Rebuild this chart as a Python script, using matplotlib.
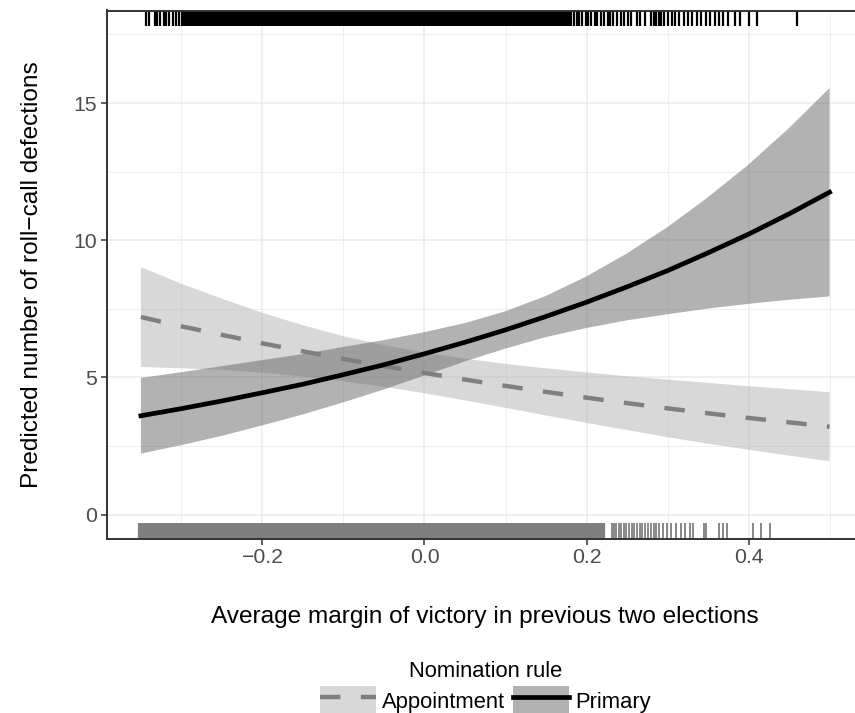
import matplotlib
matplotlib.use("Agg")
from matplotlib import pyplot as plt
from matplotlib.patches import Patch
from matplotlib.lines import Line2D

plt.rcParams['font.family'] = ['Liberation Sans', 'DejaVu Sans']

# predicted counts with 95% bands
margin = [-0.35, -0.30, -0.25, -0.20, -0.15, -0.10, -0.05, 0.00, 0.05,
          0.10, 0.15, 0.20, 0.25, 0.30, 0.35, 0.40, 0.45, 0.50]

primary_fit = [3.60, 3.86, 4.14, 4.44, 4.75, 5.10, 5.46, 5.86, 6.28,
               6.73, 7.22, 7.74, 8.30, 8.89, 9.54, 10.22, 10.96, 11.75]
primary_lo = [2.22, 2.53, 2.87, 3.25, 3.65, 4.09, 4.56, 5.07, 5.58,
              6.05, 6.47, 6.80, 7.08, 7.30, 7.51, 7.68, 7.83, 7.95]
primary_hi = [4.98, 5.19, 5.41, 5.63, 5.85, 6.11, 6.36, 6.65, 6.98,
              7.41, 7.97, 8.68, 9.52, 10.48, 11.57, 12.76, 14.09, 15.55]

appoint_fit = [7.20, 6.86, 6.55, 6.24, 5.95, 5.67, 5.41, 5.16, 4.92,
               4.69, 4.47, 4.26, 4.06, 3.87, 3.69, 3.52, 3.36, 3.20]
appoint_lo = [5.38, 5.33, 5.27, 5.17, 5.03, 4.86, 4.65, 4.42, 4.16,
              3.89, 3.61, 3.34, 3.08, 2.82, 2.58, 2.36, 2.15, 1.94]
appoint_hi = [9.02, 8.41, 7.87, 7.35, 6.90, 6.50, 6.18, 5.90, 5.68,
              5.49, 5.33, 5.18, 5.04, 4.92, 4.80, 4.68, 4.57, 4.46]

# observed margins (rugs): primary on top, appointment at the bottom
primary_rug_dense = [
    -0.295, -0.290, -0.285, -0.281, -0.276, -0.270, -0.265, -0.261, -0.255, -0.250,
    -0.246, -0.240, -0.235, -0.231, -0.225, -0.220, -0.216, -0.210, -0.205, -0.200,
    -0.196, -0.190, -0.185, -0.181, -0.175, -0.170, -0.166, -0.160, -0.155, -0.150,
    -0.146, -0.140, -0.135, -0.131, -0.125, -0.120, -0.116, -0.110, -0.105, -0.100,
    -0.096, -0.090, -0.085, -0.081, -0.075, -0.070, -0.066, -0.060, -0.055, -0.050,
    -0.046, -0.040, -0.035, -0.031, -0.025, -0.020, -0.016, -0.010, -0.005, 0.000,
    0.004, 0.010, 0.015, 0.019, 0.025, 0.030, 0.034, 0.040, 0.045, 0.050,
    0.054, 0.060, 0.065, 0.069, 0.075, 0.080, 0.084, 0.090, 0.095, 0.100,
    0.104, 0.110, 0.115, 0.119, 0.125, 0.130, 0.134, 0.140, 0.145, 0.150,
    0.154, 0.160, 0.165, 0.169, 0.175]
primary_rug_sparse = [
    -0.344, -0.340, -0.333, -0.330, -0.326, -0.322, -0.319, -0.315, -0.311, -0.307,
    -0.303, -0.299,
    0.178, 0.181, 0.184, 0.188, 0.191, 0.195, 0.199, 0.202, 0.206, 0.210,
    0.213, 0.218, 0.222, 0.226, 0.229, 0.233, 0.238, 0.242, 0.246, 0.251,
    0.255, 0.262, 0.266, 0.272, 0.279, 0.283, 0.286, 0.289, 0.292, 0.296,
    0.300, 0.305, 0.309, 0.314, 0.320, 0.325, 0.330, 0.336, 0.341, 0.347,
    0.352, 0.358, 0.364, 0.369, 0.375, 0.383, 0.390, 0.401, 0.410, 0.460]

appoint_rug_dense = [
    -0.350, -0.345, -0.340, -0.336, -0.330, -0.325, -0.321, -0.315, -0.310, -0.306,
    -0.300, -0.295, -0.291, -0.285, -0.280, -0.276, -0.270, -0.265, -0.261, -0.255,
    -0.250, -0.246, -0.240, -0.235, -0.231, -0.225, -0.220, -0.216, -0.210, -0.205,
    -0.201, -0.195, -0.190, -0.186, -0.180, -0.175, -0.171, -0.165, -0.160, -0.156,
    -0.150, -0.145, -0.141, -0.135, -0.130, -0.126, -0.120, -0.115, -0.111, -0.105,
    -0.100, -0.096, -0.090, -0.085, -0.081, -0.075, -0.070, -0.066, -0.060, -0.055,
    -0.051, -0.045, -0.040, -0.036, -0.030, -0.025, -0.021, -0.015, -0.010, -0.006,
    0.000, 0.005, 0.009, 0.015, 0.020, 0.024, 0.030, 0.035, 0.039, 0.045,
    0.050, 0.054, 0.060, 0.065, 0.069, 0.075, 0.080, 0.084, 0.090, 0.095,
    0.099, 0.105, 0.110, 0.114, 0.120, 0.125, 0.129, 0.135, 0.140, 0.144,
    0.150, 0.155, 0.159, 0.165, 0.170, 0.174, 0.180, 0.185, 0.189, 0.195,
    0.200, 0.204, 0.210, 0.215, 0.219]
appoint_rug_sparse = [
    0.231, 0.234, 0.237, 0.240, 0.243, 0.246, 0.249, 0.252, 0.256, 0.259,
    0.262, 0.266, 0.269, 0.272, 0.276, 0.279, 0.283, 0.286, 0.290, 0.294,
    0.299, 0.304, 0.310, 0.317, 0.322, 0.328, 0.332, 0.345, 0.348, 0.363,
    0.368, 0.373, 0.405, 0.415, 0.426]

x_ticks = [-0.2, 0.0, 0.2, 0.4]
x_ticklabels = ["\u22120.2", "0.0", "0.2", "0.4"]
y_ticks = [0, 5, 10, 15]
x_minor = [-0.3, -0.1, 0.1, 0.3, 0.5]
y_minor = [2.5, 7.5, 12.5, 17.5]

fig = plt.figure(figsize=(8.55, 7.13), dpi=100)
# panel runs a bit past the right edge, like the cropped original
ax = fig.add_axes([106.5 / 855, 1 - 538.5 / 713, (864 - 106.5) / 855, 528 / 713])
ax.set_xlim(-0.3925, 0.5425)
ax.set_ylim(-0.875, 18.375)

grid = '#EBEBEB'
for v in x_ticks:
    ax.axvline(v, color=grid, lw=1.1, zorder=0)
for v in x_minor:
    ax.axvline(v, color=grid, lw=0.55, zorder=0)
for v in y_ticks:
    ax.axhline(v, color=grid, lw=1.1, zorder=0)
for v in y_minor:
    ax.axhline(v, color=grid, lw=0.55, zorder=0)

ax.fill_between(margin, appoint_lo, appoint_hi, facecolor='#B3B3B3', alpha=0.5,
                edgecolor='none', zorder=1)
ax.fill_between(margin, primary_lo, primary_hi, facecolor='#666666', alpha=0.5,
                edgecolor='none', zorder=1)
ax.plot(margin, appoint_fit, color='#7F7F7F', lw=3.2, dashes=(4.6, 4.6),
        solid_capstyle='butt', dash_capstyle='butt', zorder=2)
ax.plot(margin, primary_fit, color='black', lw=3.4, zorder=2)

xt = ax.get_xaxis_transform()
ax.vlines(primary_rug_dense, 0.97, 1.0, transform=xt, color='black', lw=4.5, zorder=3)
ax.vlines(primary_rug_sparse, 0.97, 1.0, transform=xt, color='black', lw=1.6, zorder=3)
ax.vlines(appoint_rug_dense, 0.0, 0.03, transform=xt, color='#7F7F7F', lw=4.5, zorder=3)
ax.vlines(appoint_rug_sparse, 0.0, 0.03, transform=xt, color='#7F7F7F', lw=1.3, zorder=3)

ax.set_xticks(x_ticks)
ax.set_xticklabels(x_ticklabels)
ax.set_yticks(y_ticks)
ax.tick_params(length=4, width=1.1, color='#333333', labelcolor='#4D4D4D',
               labelsize=15.3, pad=3)
for s in ax.spines.values():
    s.set_color('#333333')
    s.set_linewidth(1.4)
    s.set_zorder(4)

ax.set_xlabel("Average margin of victory in previous two elections", fontsize=17.6, labelpad=28)
ax.set_ylabel("Predicted number of roll\u2212call defections", fontsize=17.6, labelpad=22)

handles = [
    (Patch(facecolor='#B3B3B3', alpha=0.5, edgecolor='none'),
     Line2D([], [], color='#7F7F7F', lw=3.2, dashes=(4.6, 4.6))),
    (Patch(facecolor='#666666', alpha=0.5, edgecolor='none'),
     Line2D([], [], color='black', lw=3.4)),
]
leg = fig.legend(handles, ["Appointment", "Primary"], title="Nomination rule",
                 loc='upper center', bbox_to_anchor=(485.5 / 855, 1 - 661 / 713),
                 ncol=2, frameon=False, fontsize=15.8, title_fontsize=15.8,
                 handlelength=2.56, handleheight=1.58, handletextpad=0.27,
                 columnspacing=0.37, labelspacing=0.2, borderpad=0, borderaxespad=0)

fig.savefig("out.png", dpi=100)
